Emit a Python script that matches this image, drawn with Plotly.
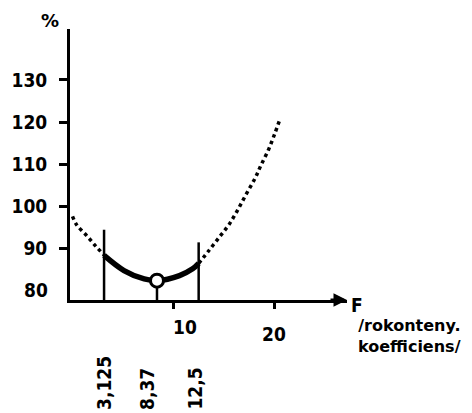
import plotly.graph_objects as go

# Relative cost (%) against the F coefficient
f_left = [0.0, 0.4, 1.4, 2.3, 3.125]
pct_left = [97.6, 95.6, 93.0, 90.5, 88.4]

f_opt = [3.125, 5.1, 7.1, 8.37, 10.6, 11.9, 12.5]
pct_opt = [88.3, 84.7, 82.7, 82.3, 83.5, 85.1, 86.4]

f_right = [12.5, 13.5, 14.6, 15.5, 16.35, 17.2, 18.1, 18.65, 19.4, 20.05, 20.56]
pct_right = [86.4, 89.4, 92.8, 95.6, 99.0, 102.8, 106.7, 109.6, 113.3, 117.3, 120.7]

f_min = 8.37
pct_min = 82.3

bound_f = [3.125, 12.5]
bound_top = [94.4, 91.4]

y_ticks = [90, 100, 110, 120, 130]
y_base_label = 80
x_ticks = [10, 20]
f_marks = [3.125, 8.37, 12.5]
f_mark_text = ["3,125", "8,37", "12,5"]

X_RANGE = [-0.25, 27.2]
Y_RANGE = [77.7, 142.1]

FONT = "DejaVu Sans Condensed"
WIDE_FONT = "DejaVu Sans"
INK = "black"

fig = go.Figure()

dots = dict(color=INK, width=3.5, dash="3.5px,3.5px", shape="spline")
fig.add_trace(go.Scatter(x=f_left, y=pct_left, mode="lines", line=dots))
fig.add_trace(go.Scatter(x=f_right, y=pct_right, mode="lines", line=dots))

# bounding verticals of the optimal interval
for fx, top in zip(bound_f, bound_top):
    fig.add_trace(go.Scatter(x=[fx, fx], y=[Y_RANGE[0], top], mode="lines",
                             line=dict(color=INK, width=2.5)))
fig.add_trace(go.Scatter(x=[f_min, f_min], y=[Y_RANGE[0], pct_min], mode="lines",
                         line=dict(color=INK, width=2.5)))

fig.add_trace(go.Scatter(x=f_opt, y=pct_opt, mode="lines",
                         line=dict(color=INK, width=5.5, shape="spline")))

fig.add_trace(go.Scatter(x=[f_min], y=[pct_min], mode="markers",
                         marker=dict(size=13, color="white",
                                     line=dict(color=INK, width=3))))

fig.update_layout(
    width=472, height=413,
    margin=dict(l=65, r=125, t=29, b=113),
    paper_bgcolor="white", plot_bgcolor="white",
    showlegend=False,
    font=dict(family=FONT, color=INK, size=19, weight="bold"),
)

fig.update_xaxes(
    range=X_RANGE, showgrid=False, zeroline=False,
    showline=True, linecolor=INK, linewidth=3,
    ticks="outside", ticklen=6, tickwidth=2.5, tickcolor=INK,
    tickvals=x_ticks, showticklabels=False,
)
fig.update_yaxes(
    range=Y_RANGE, showgrid=False, zeroline=False,
    showline=True, linecolor=INK, linewidth=3,
    ticks="outside", ticklen=8, tickwidth=2.5, tickcolor=INK,
    tickvals=y_ticks, ticktext=[str(v) for v in y_ticks],
    ticklabelstandoff=8,
    tickfont=dict(family=FONT, size=19, weight="bold"),
)

# the base value sits just above the corner, without a tick mark
fig.add_annotation(x=0, y=y_base_label, xref="paper", yref="y",
                   text=str(y_base_label), showarrow=False,
                   xanchor="right", yanchor="middle", xshift=-20)

# x tick labels
fig.add_annotation(x=10, y=-0.1, xref="x", yref="paper", text="10",
                   showarrow=False, xanchor="left", yanchor="middle", xshift=-2)
fig.add_annotation(x=20, y=-0.125, xref="x", yref="paper", text="20",
                   showarrow=False, xanchor="center", yanchor="middle")

# values of the marked coefficients
for fx, txt, dx in zip(f_marks, f_mark_text, [0, -10, -4]):
    fig.add_annotation(x=fx, y=-0.413, xref="x", yref="paper", text=txt,
                       textangle=-90, showarrow=False,
                       xanchor="center", yanchor="bottom", xshift=dx)

# arrow head of the F axis
fig.add_annotation(x=X_RANGE[1], y=Y_RANGE[0], xref="x", yref="y",
                   ax=-18, ay=0, showarrow=True, arrowhead=2, arrowsize=0.9,
                   arrowwidth=3, arrowcolor=INK, text="")

fig.add_annotation(x=-0.074, y=1.031, xref="paper", yref="paper", text="%",
                   showarrow=False, xanchor="center", yanchor="middle",
                   font=dict(size=18, family=WIDE_FONT, weight="bold"))
fig.add_annotation(x=1.035, y=-0.017, xref="paper", yref="paper", text="F",
                   showarrow=False, xanchor="center", yanchor="middle",
                   font=dict(size=19, family=FONT, weight="bold"))
fig.add_annotation(x=1.418, y=-0.05, xref="paper", yref="paper",
                   text="/rokonteny.<br>koefficiens/", align="right",
                   showarrow=False, xanchor="right", yanchor="top",
                   font=dict(size=16, family=WIDE_FONT, weight="bold"))

fig.write_html("out.html")
